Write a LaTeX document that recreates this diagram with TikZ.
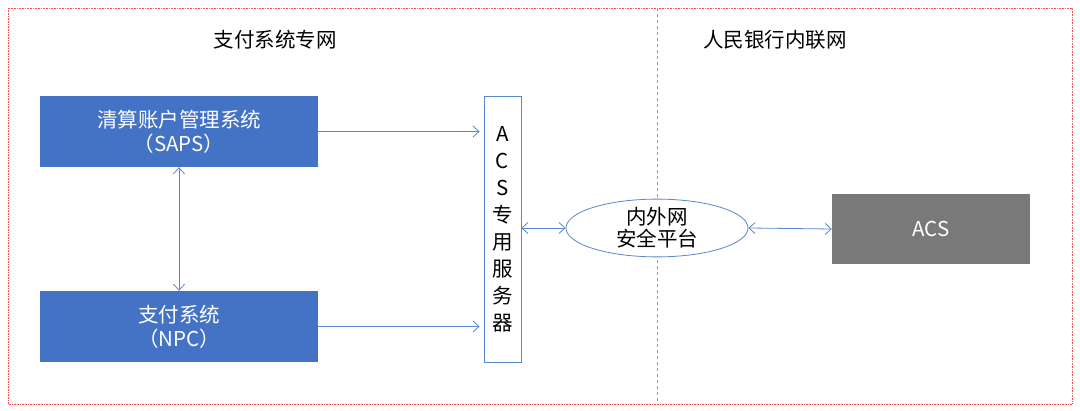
\documentclass[tikz,border=0pt]{standalone}
\usepackage{fontspec}
\setmainfont{Noto Sans CJK SC}
\usetikzlibrary{arrows.meta,shapes.geometric}
\definecolor{boxblue}{HTML}{4472C4}
\definecolor{lineblue}{HTML}{5B86D0}
\tikzset{
  sysbox/.style={fill=boxblue, text=white, minimum width=278pt, minimum height=71pt, align=center, font=\fontsize{20.5}{24}\selectfont, inner sep=0pt},
  link/.style={draw=lineblue, line width=0.8pt, -{Straight Barb[length=6pt,width=11pt]}},
  dlink/.style={link, {Straight Barb[length=6pt,width=11pt]}-{Straight Barb[length=6pt,width=11pt]}}
}
\begin{document}
\begin{tikzpicture}[x=1pt,y=-1pt]
			\useasboundingbox (0,0) rectangle (1080,411);
			% frame and separator
			\draw[red!70, densely dotted, line width=0.6pt] (8,8) rectangle (1072,404);
			\draw[lineblue!80, dashed, line width=0.8pt] (657,8) -- (657,404);
			\node[font=\fontsize{20.5}{24}\selectfont] (titleL) at (275,40) {支付系统专网};
			\node[font=\fontsize{20.5}{24}\selectfont] (titleR) at (775,40) {人民银行内联网};
			% boxes
			\node[sysbox] (saps) at (179,131.5) {清算账户管理系统\\（SAPS）};
			\node[sysbox] (npc) at (179,326.5) {支付系统\\（NPC）};
			\node[draw=lineblue, line width=0.8pt, minimum width=37pt, minimum height=266pt, inner sep=0pt, align=center, font=\fontsize{20.5}{27}\selectfont] (server) at (502.5,229) {A\\C\\S\\专\\用\\服\\务\\器};
			\node[draw=lineblue, fill=white, line width=0.8pt, ellipse, minimum width=182pt, minimum height=50pt, inner sep=0pt, align=center, font=\fontsize{20.5}{22}\selectfont] (gate) at (657,228) {内外网\\安全平台};
			\node[fill=gray!95!black, text=white, minimum width=198pt, minimum height=70pt, font=\fontsize{20.5}{24}\selectfont] (acs) at (931,229) {ACS};
			% connectors
			\draw[dlink] (saps.south) -- (npc.north);
			\draw[link] (saps.east) -- ([xshift=-4pt]server.west |- saps.east);
			\draw[link] (npc.east) -- ([xshift=-4pt]server.west |- npc.east);
			\draw[dlink] (server.east |- gate.west) -- (gate.west);
			\draw[dlink] (gate.east) -- (acs.west);
		\end{tikzpicture}
\end{document}
